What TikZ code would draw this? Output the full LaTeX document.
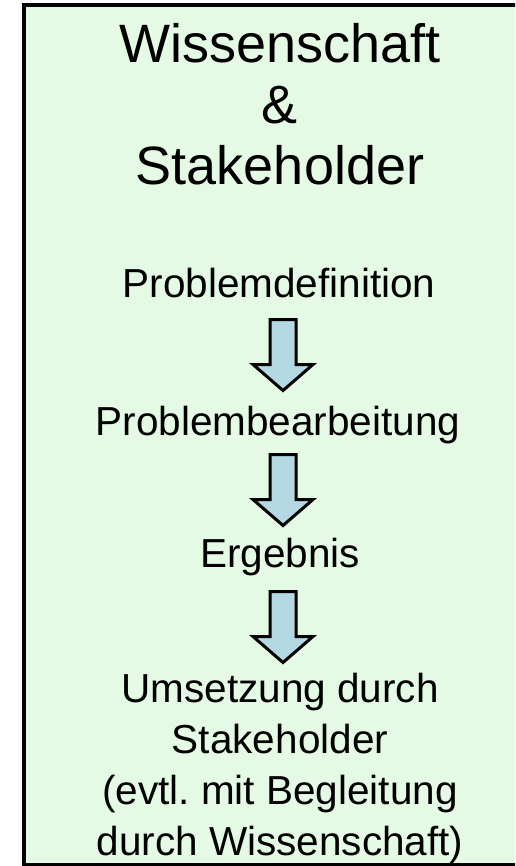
\documentclass[tikz,border=0pt]{standalone}
\usepackage{fontspec}
\setmainfont{Liberation Sans}
\frenchspacing
\definecolor{boxgreen}{RGB}{229,250,229}
\definecolor{arrowblue}{RGB}{180,216,226}
\begin{document}
\begin{tikzpicture}[x=1pt,y=-1pt,
  titletext/.style={font=\fontsize{54}{61}\selectfont, align=center, anchor=base, inner sep=0pt},
  steptext/.style={font=\fontsize{40.5}{50.7}\selectfont, align=center, anchor=base, inner sep=0pt},
  blockarrow/.style={draw=black, line width=3pt, fill=arrowblue, line join=miter}]
\useasboundingbox (0,0) rectangle (515,866);
\fill[white] (0,0) rectangle (515,866);
\begin{scope}
\clip (0,0) rectangle (515,866);
\draw[line width=4pt, fill=boxgreen] (24,5.5) rectangle (540,864.5);
\end{scope}
\node[titletext] (title) at (280,185) {Wissenschaft\\\&\\Stakeholder};
\node[steptext] (def) at (279,297) {Problemdefinition};
\node[steptext] (bearb) at (278,435) {Problembearbeitung};
\node[steptext] (erg) at (280,567) {Ergebnis};
\node[steptext] (ums) at (280,855) {Umsetzung durch\\Stakeholder\\(evtl.\ mit Begleitung\\durch Wissenschaft)};
\foreach \t/\n in {319.5/a1, 454.5/a2, 591.5/a3}{
  \draw[blockarrow] (270,\t) -- (296,\t) -- (296,\t+45) -- (313,\t+45) -- (283,\t+71) -- (253,\t+45) -- (270,\t+45) -- cycle;
}
\end{tikzpicture}
\end{document}
